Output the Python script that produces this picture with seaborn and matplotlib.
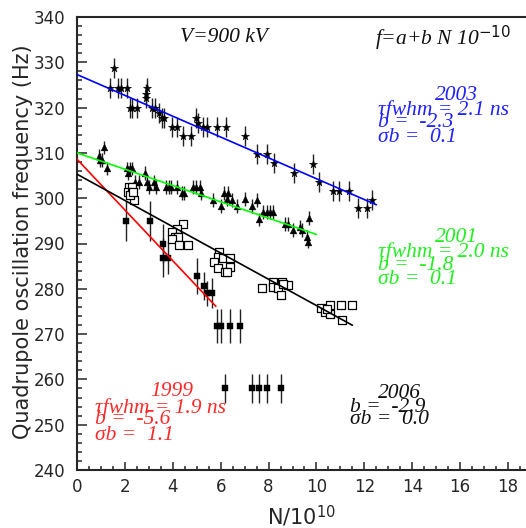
import numpy as np
import pandas as pd
import matplotlib
matplotlib.use("Agg")
import matplotlib.pyplot as plt
import seaborn as sns
from matplotlib.ticker import MultipleLocator

# ---- 2003 run (stars) ----
n_2003 = [1.56, 1.38, 1.73, 1.82, 2.10, 2.21, 2.31, 2.52, 2.87, 2.94, 2.90,
          3.12, 3.26, 3.43, 3.54, 3.65, 3.95, 4.19, 4.41, 4.76, 4.97, 5.07,
          5.28, 5.44, 5.83, 6.24, 7.02, 7.50, 7.92, 8.22, 9.08, 9.87, 10.12,
          10.71, 10.96, 11.37, 11.75, 12.13, 12.31]
f_2003 = [328.8, 324.4, 324.4, 324.4, 324.4, 320.0, 320.0, 320.0, 322.2, 324.4, 322.9,
          320.0, 320.0, 318.9, 317.8, 317.8, 315.8, 315.8, 313.7, 313.7, 317.8, 316.7,
          315.8, 315.8, 315.8, 315.8, 313.7, 309.7, 309.7, 307.7, 305.5, 307.5, 303.6,
          301.6, 301.6, 301.6, 297.8, 297.8, 299.6]
err_2003 = 2.2

# ---- 2001 run (triangles) ----
n_2001 = [0.92, 1.03, 1.24, 0.97, 1.14, 2.08, 2.21, 2.31, 2.14, 2.42, 2.60, 2.84,
          2.91, 3.01, 3.23, 3.28, 3.70, 3.84, 3.93, 4.16, 4.37, 4.48, 4.86, 4.97,
          5.14, 5.18, 5.69, 6.00, 6.15, 6.32, 6.25, 6.49, 6.70, 7.02, 7.30, 7.51,
          7.60, 7.78, 7.92, 8.05, 8.20, 8.69, 8.83, 9.04, 9.31, 9.38, 9.59, 9.66, 9.70]
f_2001 = [309.3, 308.4, 306.6, 308.4, 311.2, 306.6, 306.6, 306.6, 305.5, 303.6, 303.6, 305.5,
          303.6, 302.5, 303.6, 302.5, 302.5, 302.5, 302.5, 302.5, 301.2, 301.2, 302.5, 302.5,
          302.5, 301.2, 299.6, 298.3, 301.1, 301.1, 299.8, 299.6, 298.3, 299.8, 298.3, 299.6,
          295.3, 297.0, 297.0, 297.0, 297.0, 294.3, 294.3, 293.0, 293.7, 293.0, 291.5, 290.4, 295.6]
err_2001 = 1.5

# ---- 2006 run (open squares) ----
n_2006 = [2.17, 2.28, 2.14, 2.28, 2.39, 2.21, 2.35, 4.44, 4.16, 3.95, 4.10, 4.23,
          3.95, 4.26, 4.65, 5.93, 5.90, 5.73, 6.11, 6.39, 5.90, 6.39, 6.18, 6.28,
          7.74, 8.20, 8.55, 8.20, 8.40, 8.80, 8.52, 8.62, 10.18, 10.57, 11.01,
          11.47, 10.36, 10.57, 11.06, 10.45]
f_2006 = [302.4, 302.4, 301.4, 301.1, 299.6, 300.6, 301.4, 294.3, 293.3, 292.6, 291.5, 291.5,
          291.1, 289.7, 289.7, 288.2, 287.1, 286.0, 286.7, 286.7, 284.5, 284.9, 283.6, 283.6,
          280.1, 281.4, 281.4, 280.5, 280.1, 280.8, 278.6, 281.0, 275.8, 276.4, 276.4,
          276.4, 274.9, 274.4, 273.1, 275.5]

# ---- 1999 run (filled squares) ----
n_1999 = [2.03, 3.04, 3.60, 3.60, 3.81, 5.00, 5.32, 5.44, 5.63,
          5.83, 6.00, 6.39, 6.81, 6.18, 7.30, 7.60, 7.92, 8.51]
f_1999 = [295.0, 295.0, 290.0, 286.9, 286.9, 282.8, 280.6, 279.0, 279.0,
          271.8, 271.8, 271.8, 271.8, 258.0, 258.0, 258.0, 258.0, 258.0]
err_1999 = [4.4, 4.4, 4.4, 4.4, 3.7, 3.9, 3.1, 2.8, 3.3,
            3.7, 3.7, 3.7, 3.7, 3.3, 3.3, 3.3, 3.3, 3.3]

# ---- linear fits f = a + b N/1e10 ----
fit_year = ["1999", "2001", "2003", "2006"]
fit_a = [308.6, 310.0, 327.3, 305.3]
fit_b = [-5.6, -1.8, -2.3, -2.9]
fit_sigma_b = [1.1, 0.1, 0.1, 0.0]
fit_tau = ["1.9", "2.0", "2.1", None]
fit_nmax = [5.8, 10.0, 12.5, 11.5]
fit_color = ["#ff0000", "#00ff00", "#0000ff", "#000000"]
text_color = ["#ff2a2a", "#22ee22", "#2222ff", "#111111"]

sns.set_theme(style="ticks")
plt.rcParams.update({
    "font.family": ["DejaVu Sans"],
    "mathtext.fontset": "custom",
    "mathtext.sf": "DejaVu Sans",
    "mathtext.rm": "DejaVu Sans",
    "mathtext.it": "Liberation Serif:italic",
    "xtick.direction": "in",
    "ytick.direction": "in",
    "axes.linewidth": 1.5,
})

fig = plt.figure(figsize=(5.26, 5.28), dpi=100)
ax = fig.add_axes([77 / 526, 58 / 528, 449 / 526, 453 / 528])

bar_kw = dict(fmt="none", ecolor="#222222", elinewidth=1.0, capsize=0, zorder=2)

df03 = pd.DataFrame({"n": n_2003, "f": f_2003})
ax.errorbar(df03["n"], df03["f"], yerr=err_2003, **bar_kw)
sns.scatterplot(data=df03, x="n", y="f", marker="*", s=38, color="black",
                edgecolor="black", linewidth=0.3, ax=ax, zorder=3)

df01 = pd.DataFrame({"n": n_2001, "f": f_2001})
ax.errorbar(df01["n"], df01["f"], yerr=err_2001, **bar_kw)
sns.scatterplot(data=df01, x="n", y="f", marker="^", s=24, color="black",
                edgecolor="black", linewidth=0.3, ax=ax, zorder=3)

df06 = pd.DataFrame({"n": n_2006, "f": f_2006})
sns.scatterplot(data=df06, x="n", y="f", marker="s", s=26, facecolor="white",
                edgecolor="black", linewidth=0.9, ax=ax, zorder=3)

df99 = pd.DataFrame({"n": n_1999, "f": f_1999, "e": err_1999})
ax.errorbar(df99["n"], df99["f"], yerr=df99["e"], **bar_kw)
sns.scatterplot(data=df99, x="n", y="f", marker="s", s=20, color="black",
                edgecolor="black", linewidth=0.3, ax=ax, zorder=3)

# fitted straight lines
for a, b, nmax, c in zip(fit_a, fit_b, fit_nmax, fit_color):
    nn = np.array([0.0, nmax])
    sns.lineplot(x=nn, y=a + b * nn, color=c, linewidth=1.2, ax=ax, zorder=4)

ax.set_xlim(0, 18.75)
ax.set_ylim(240, 340)
ax.xaxis.set_major_locator(MultipleLocator(2))
ax.xaxis.set_minor_locator(MultipleLocator(0.5))
ax.yaxis.set_major_locator(MultipleLocator(10))
ax.yaxis.set_minor_locator(MultipleLocator(2))
ax.tick_params(axis="x", which="major", length=6, width=1.1, labelsize=12, pad=6, top=False)
ax.tick_params(axis="x", which="minor", length=3, width=1.1, top=False)
ax.tick_params(axis="y", which="major", length=7, width=1.1, labelsize=12, pad=8.5, right=False)
ax.tick_params(axis="y", which="minor", length=3.5, width=1.1, right=False)
ax.spines["right"].set_visible(False)
ax.grid(False)

ax.set_ylabel("Quadrupole oscillation frequency (Hz)", fontsize=15, va="center")
ax.yaxis.set_label_coords(-0.12, 0.505)
ax.set_xlabel(r"N/10$^{\mathsf{10}}$", fontsize=15, va="center")
ax.xaxis.set_label_coords(0.5, -0.10)

serif = dict(family="Liberation Serif", style="italic", fontsize=15.5)

def px(xp, yp):
    """pixel position in the figure -> data coordinates"""
    return (xp - 77) / 23.94, 340 - (yp - 17) / 4.53

ax.text(*px(224, 38), "V=900 kV", ha="center", va="center", color="#111111", **serif)
ax.text(*px(375, 38), r"f=a+b N 10$^{\mathit{-10}}$", ha="left", va="center",
        color="#111111", **serif)

blocks = {
    "1999": (172, 392, 95, [408, 420, 435]),
    "2001": (456, 237, 378, [252, 265, 280]),
    "2003": (456, 95, 378, [110, 123, 137]),
    "2006": (399, 393, 350, [None, 407, 420]),
}
for year, tau, b, sb, col in zip(fit_year, fit_tau, fit_b, fit_sigma_b, text_color):
    cx, cy, lx, rows = blocks[year]
    ax.text(*px(cx, cy), year, ha="center", va="center", color=col, **serif)
    lines = [None if tau is None else f"\u03c4fwhm = {tau} ns",
             f"b =  {b:.1f}", f"\u03c3b =  {sb:.1f}"]
    for txt, ry in zip(lines, rows):
        if txt is None:
            continue
        ax.text(*px(lx, ry), txt, ha="left", va="center", color=col, **serif)

fig.savefig("out.png", dpi=100)
